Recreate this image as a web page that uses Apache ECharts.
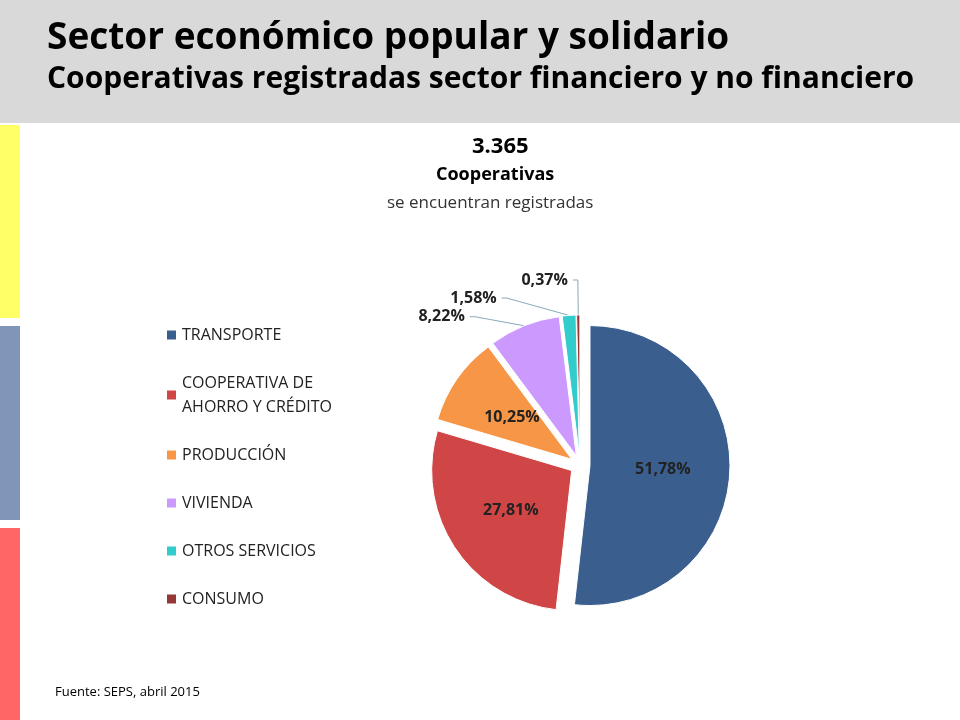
<!DOCTYPE html>
<html><head><meta charset="utf-8">
<script src="https://cdn.jsdelivr.net/npm/echarts@6/dist/echarts.min.js"></script>
<style>body{margin:0}#c{width:960px;height:720px}</style></head>
<body><div id="c"></div>
<script>
const categories = ['TRANSPORTE','COOPERATIVA DE\nAHORRO Y CRÉDITO','PRODUCCIÓN','VIVIENDA','OTROS SERVICIOS','CONSUMO'];
const values = [51.78, 27.81, 10.25, 8.22, 1.58, 0.37];
const colors = ['#3A5F8F','#D04545','#F79646','#CC99FF','#33CCCC','#953735'];
const outside = [false,false,false,true,true,true];
const chart = echarts.init(document.getElementById('c'));
const F = '"Open Sans", sans-serif';
chart.setOption({
  animation:false,
  backgroundColor:'#fff',
  graphic:[
    {type:'rect',shape:{x:0,y:0,width:960,height:123},style:{fill:'#D9D9D9'}},
    {type:'rect',shape:{x:0,y:125,width:20,height:193},style:{fill:'#FFFF66'}},
    {type:'rect',shape:{x:0,y:326,width:20,height:194},style:{fill:'#7F96B8'}},
    {type:'rect',shape:{x:0,y:528,width:20,height:192},style:{fill:'#FF6666'}},
    {type:'text',left:47,top:20,style:{text:'Sector económico popular y solidario',font:'bold 37px "Open Sans", sans-serif',fill:'#000'}},
    {type:'text',left:47,top:64,style:{text:'Cooperativas registradas sector financiero y no financiero',font:'bold 30px "Open Sans", sans-serif',fill:'#000'}},
    {type:'text',left:472,top:136,style:{text:'3.365',font:'bold 22px "Open Sans", sans-serif',fill:'#000'}},
    {type:'text',left:436,top:166,style:{text:'Cooperativas',font:'bold 18px "Open Sans", sans-serif',fill:'#000'}},
    {type:'text',left:387,top:195,style:{text:'se encuentran registradas',font:'17px "Open Sans", sans-serif',fill:'#333'}},
    {type:'text',left:55,top:686,style:{text:'Fuente: SEPS, abril 2015',font:'13px "Open Sans", sans-serif',fill:'#000'}}
  ],
  legend:{orient:'vertical',left:160,top:318,itemWidth:11,itemHeight:11,itemGap:24,icon:'rect',
    textStyle:{fontFamily:F,fontSize:16,color:'#222',lineHeight:24},data:categories},
  series:[{
    type:'pie',center:[580,465],radius:[0,140],startAngle:90,clockwise:true,
    selectedMode:'multiple',selectedOffset:10,
    itemStyle:{borderColor:'#fff',borderWidth:1},
    labelLine:{length:35,length2:5,lineStyle:{color:'#8ab'}},
    data:categories.map((n,i)=>({name:n,value:values[i],selected:true,
      itemStyle:{color:colors[i]},
      label:{show:true,position:outside[i]?'outside':'inside',
        formatter:v=>v.value.toFixed(2).replace('.',',')+'%',
        fontFamily:F,fontSize:16,fontWeight:'bold',color:'#222'},
      labelLine:{show:outside[i]}}))
  }]
});
</script></body></html>
